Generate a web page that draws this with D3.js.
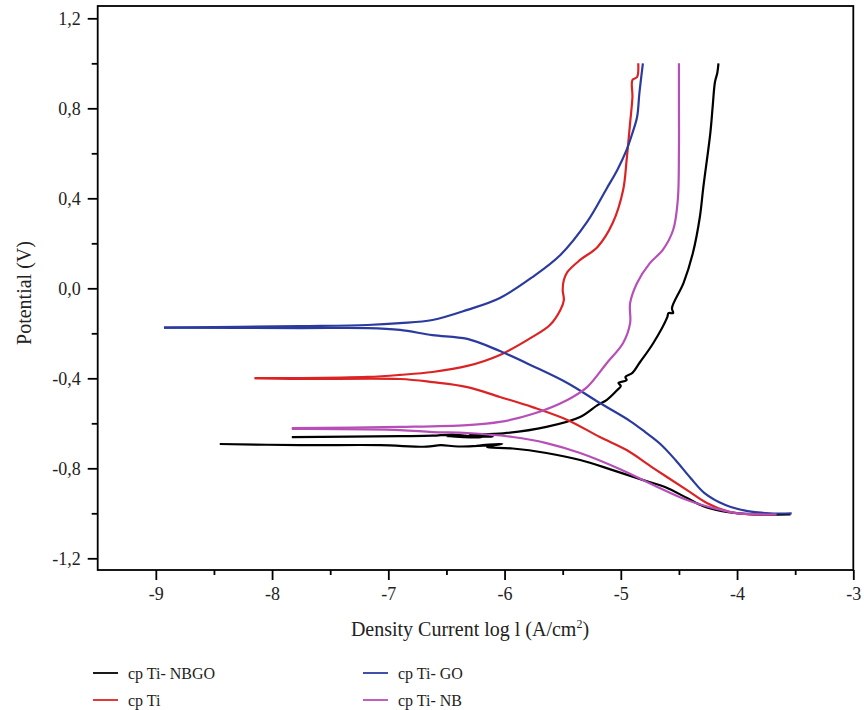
<!DOCTYPE html>
<html>
<head>
<meta charset="utf-8">
<script src="https://cdn.jsdelivr.net/npm/d3@7"></script>
<style>
  body { margin: 0; background: #fff; }
  svg { display: block; font-family: 'Liberation Serif', 'DejaVu Serif', serif; }
  .axis line { stroke: #000; stroke-width: 1.8; }
</style>
</head>
<body>
<svg width="864" height="710"></svg>
<script>
// tick labels
const xTicks = [-9, -8, -7, -6, -5, -4, -3];
const xMinorTicks = [-8.5, -7.5, -6.5, -5.5, -4.5, -3.5];
const yTicks = [-1.2, -0.8, -0.4, 0, 0.4, 0.8, 1.2];
const yMinorTicks = [-1.0, -0.6, -0.2, 0.2, 0.6, 1.0];

const seriesNames = ['cp Ti- NBGO', 'cp Ti', 'cp Ti- GO', 'cp Ti- NB'];

// [log i, E], cathodic branch (from -1 V down to Ecorr) and anodic branch
const nbgoCathodic = [
  [-3.54, -1.005], [-3.86, -1.005], [-4.09, -0.994], [-4.29, -0.968], [-4.43, -0.932],
  [-4.62, -0.883], [-4.78, -0.857], [-5.07, -0.808], [-5.35, -0.763], [-5.64, -0.732],
  [-5.93, -0.712], [-6.15, -0.706], [-6.02, -0.691], [-6.25, -0.700], [-6.06, -0.695],
  [-6.40, -0.703], [-6.55, -0.697], [-6.67, -0.704], [-7.07, -0.697], [-7.76, -0.697],
  [-8.45, -0.692]
];
const nbgoAnodic = [
  [-7.83, -0.661], [-6.90, -0.657], [-6.62, -0.655], [-6.45, -0.650], [-6.20, -0.664],
  [-6.50, -0.657], [-6.10, -0.660], [-6.30, -0.652], [-6.01, -0.645], [-5.64, -0.616],
  [-5.35, -0.572], [-5.20, -0.519], [-5.12, -0.496], [-5.03, -0.452], [-5.00, -0.434],
  [-5.02, -0.421], [-4.95, -0.408], [-4.96, -0.394], [-4.90, -0.376], [-4.84, -0.332],
  [-4.72, -0.243], [-4.60, -0.128], [-4.59, -0.110], [-4.55, -0.110], [-4.56, -0.088],
  [-4.46, 0.024], [-4.38, 0.157], [-4.32, 0.317], [-4.29, 0.450], [-4.23, 0.690],
  [-4.21, 0.806], [-4.19, 0.917], [-4.17, 0.957], [-4.16, 1.00]
];

const tiCathodic = [
  [-3.69, -1.005], [-3.86, -1.005], [-4.06, -0.994], [-4.26, -0.954], [-4.43, -0.897],
  [-4.72, -0.799], [-4.95, -0.719], [-5.18, -0.661], [-5.46, -0.585], [-5.76, -0.528],
  [-6.04, -0.483], [-6.32, -0.439], [-6.62, -0.417], [-6.90, -0.403], [-7.76, -0.403],
  [-8.15, -0.399]
];
const tiAnodic = [
  [-8.15, -0.399], [-7.76, -0.399], [-7.18, -0.394], [-6.90, -0.385], [-6.62, -0.372],
  [-6.32, -0.345], [-6.04, -0.296], [-5.76, -0.216], [-5.61, -0.163], [-5.52, -0.096],
  [-5.49, -0.052], [-5.50, -0.007], [-5.49, 0.037], [-5.46, 0.072], [-5.35, 0.126],
  [-5.20, 0.184], [-5.07, 0.290], [-4.98, 0.437], [-4.95, 0.570], [-4.92, 0.735],
  [-4.90, 0.850], [-4.90, 0.926], [-4.86, 0.939], [-4.85, 1.00]
];

const goCathodic = [
  [-3.53, -1.00], [-3.72, -1.00], [-3.91, -0.990], [-4.10, -0.963], [-4.28, -0.910],
  [-4.40, -0.843], [-4.53, -0.763], [-4.66, -0.692], [-4.79, -0.639], [-4.92, -0.590],
  [-5.18, -0.510], [-5.46, -0.421], [-5.76, -0.345], [-6.04, -0.279], [-6.32, -0.225],
  [-6.62, -0.208], [-6.90, -0.185], [-7.18, -0.177], [-7.76, -0.177], [-8.93, -0.175]
];
const goAnodic = [
  [-8.93, -0.175], [-7.76, -0.168], [-7.18, -0.163], [-6.90, -0.155], [-6.62, -0.141],
  [-6.32, -0.096], [-6.04, -0.043], [-5.76, 0.050], [-5.52, 0.148], [-5.29, 0.295],
  [-5.12, 0.445], [-5.03, 0.526], [-4.95, 0.615], [-4.90, 0.690], [-4.86, 0.761],
  [-4.84, 0.868], [-4.81, 1.00]
];

const nbCathodic = [
  [-3.66, -1.005], [-3.80, -1.005], [-4.00, -0.999], [-4.21, -0.976], [-4.43, -0.941],
  [-4.72, -0.874], [-5.01, -0.803], [-5.35, -0.732], [-5.64, -0.688], [-5.93, -0.661],
  [-6.32, -0.643], [-6.62, -0.639], [-6.90, -0.630], [-7.76, -0.625], [-7.83, -0.625]
];
const nbAnodic = [
  [-7.83, -0.621], [-6.90, -0.616], [-6.32, -0.608], [-6.04, -0.594], [-5.76, -0.559],
  [-5.46, -0.496], [-5.29, -0.439], [-5.12, -0.332], [-4.98, -0.243], [-4.92, -0.155],
  [-4.92, -0.066], [-4.86, 0.024], [-4.75, 0.112], [-4.64, 0.170], [-4.55, 0.259],
  [-4.51, 0.392], [-4.50, 0.615], [-4.50, 0.837], [-4.50, 1.00]
];

const series = [
  {name: seriesNames[0], color: '#000000', branches: [nbgoCathodic, nbgoAnodic]},
  {name: seriesNames[1], color: '#dc2324', branches: [tiCathodic, tiAnodic]},
  {name: seriesNames[2], color: '#2b3b9d', branches: [goCathodic, goAnodic]},
  {name: seriesNames[3], color: '#b64fb7', branches: [nbCathodic, nbAnodic]}
];

const svg = d3.select('svg');
const plot = {left: 97.7, right: 853.3, top: 6, bottom: 570};

const x = d3.scaleLinear().domain([-9.5, -3]).range([plot.left, plot.right]);
const y = d3.scaleLinear().domain([-1.252, 1.2547]).range([plot.bottom, plot.top]);

// frame
svg.append('rect')
  .attr('x', plot.left).attr('y', plot.top)
  .attr('width', plot.right - plot.left).attr('height', plot.bottom - plot.top)
  .attr('fill', 'none').attr('stroke', '#000').attr('stroke-width', 1.8);

// axes
const fmtX = d => String(d);
const fmtY = d => d.toFixed(1).replace('.', ',');

function styleAxis (g) {
  g.attr('font-family', 'Liberation Serif, serif').attr('font-size', 18);
  g.select('.domain').remove();
  g.selectAll('text').attr('fill', '#222');
}

svg.append('g').attr('class', 'axis')
  .attr('transform', `translate(0,${plot.bottom})`)
  .call(d3.axisBottom(x).tickValues(xTicks).tickSize(10).tickPadding(7).tickFormat(fmtX))
  .call(styleAxis);
svg.append('g').attr('class', 'axis')
  .attr('transform', `translate(0,${plot.bottom})`)
  .call(d3.axisBottom(x).tickValues(xMinorTicks).tickSize(5).tickFormat(''))
  .call(styleAxis);

svg.append('g').attr('class', 'axis')
  .attr('transform', `translate(${plot.left},0)`)
  .call(d3.axisLeft(y).tickValues(yTicks).tickSize(10).tickPadding(7).tickFormat(fmtY))
  .call(styleAxis);
svg.append('g').attr('class', 'axis')
  .attr('transform', `translate(${plot.left},0)`)
  .call(d3.axisLeft(y).tickValues(yMinorTicks).tickSize(6).tickFormat(''))
  .call(styleAxis);

// axis titles
svg.append('text')
  .attr('transform', `translate(31,293) rotate(-90)`)
  .attr('text-anchor', 'middle')
  .attr('font-size', 20).attr('fill', '#222')
  .text('Potential (V)');

const xt = svg.append('text')
  .attr('x', 470).attr('y', 636)
  .attr('text-anchor', 'middle')
  .attr('font-size', 20).attr('fill', '#222');
xt.append('tspan').text('Density Current log l (A/cm');
xt.append('tspan').attr('font-size', 12).attr('dy', -8).text('2');
xt.append('tspan').attr('dy', 8).text(')');

// curves
const line = d3.line()
  .x(d => x(d[0]))
  .y(d => y(d[1]))
  .curve(d3.curveCatmullRom.alpha(0.5));

const curves = svg.append('g').attr('class', 'curves');
series.forEach(s => {
  curves.selectAll(null)
    .data(s.branches).enter()
    .append('path')
    .attr('d', line)
    .attr('fill', 'none')
    .attr('stroke', s.color)
    .attr('stroke-width', 2.2)
    .attr('stroke-linejoin', 'round');
});

// legend
const legendPos = [[93, 673], [93, 700], [363, 673], [363, 700]];
const legend = svg.append('g').attr('class', 'legend')
  .selectAll('g')
  .data(series).enter()
  .append('g')
  .attr('transform', (d, i) => `translate(${legendPos[i][0]},${legendPos[i][1]})`);
legend.append('line')
  .attr('x1', 0).attr('x2', 25)
  .attr('stroke', d => d.color).attr('stroke-width', 1.8);
legend.append('text')
  .attr('x', 35).attr('y', 6)
  .attr('font-size', 16).attr('fill', '#222')
  .text(d => d.name);
</script>
</body>
</html>
